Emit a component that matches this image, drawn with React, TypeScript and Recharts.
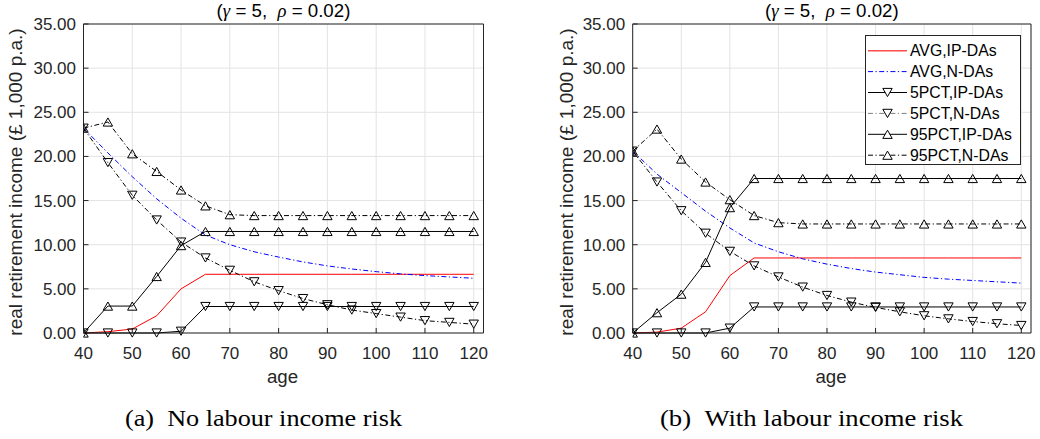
import React from 'react';
import { LineChart, Line, XAxis, YAxis, CartesianGrid } from 'recharts';

// ---------- data ----------
const ages = [40, 45, 50, 55, 60, 65, 70, 75, 80, 85, 90, 95, 100, 105, 110, 115, 120];
const xTicks = [40, 50, 60, 70, 80, 90, 100, 110, 120];
const yTicks = [0, 5, 10, 15, 20, 25, 30, 35];

// (a) No labour income risk
const avgIpA = [0, 0.15, 0.45, 1.95, 5.0, 6.65, 6.65, 6.65, 6.65, 6.65, 6.65, 6.65, 6.65, 6.65, 6.65, 6.65, 6.65];
const avgNA = [23.2, 20.4, 17.7, 15.2, 13.0, 11.1, 10.0, 9.2, 8.6, 8.05, 7.6, 7.25, 6.95, 6.7, 6.5, 6.35, 6.2];
const p5IpA = [0, 0, 0, 0, 0.2, 3.0, 3.0, 3.0, 3.0, 3.0, 3.0, 3.0, 3.0, 3.0, 3.0, 3.0, 3.0];
const p5NA = [23.2, 19.3, 15.6, 12.8, 10.3, 8.5, 7.1, 5.8, 4.8, 3.9, 3.2, 2.6, 2.2, 1.8, 1.4, 1.2, 1.0];
const p95IpA = [0, 3.05, 3.05, 6.4, 9.9, 11.5, 11.5, 11.5, 11.5, 11.5, 11.5, 11.5, 11.5, 11.5, 11.5, 11.5, 11.5];
const p95NA = [23.2, 23.9, 20.3, 18.3, 16.2, 14.4, 13.4, 13.3, 13.3, 13.3, 13.3, 13.3, 13.3, 13.3, 13.3, 13.3, 13.3];

// (b) With labour income risk
const avgIpB = [0, 0.1, 0.55, 2.4, 6.5, 8.5, 8.5, 8.5, 8.5, 8.5, 8.5, 8.5, 8.5, 8.5, 8.5, 8.5, 8.5];
const avgNB = [20.6, 18.0, 15.9, 13.8, 11.9, 10.2, 9.2, 8.4, 7.8, 7.3, 6.9, 6.6, 6.3, 6.1, 5.95, 5.8, 5.65];
const p5IpB = [0, 0, 0, 0, 0.55, 2.95, 2.95, 2.95, 2.95, 2.95, 2.95, 2.95, 2.95, 2.95, 2.95, 2.95, 2.95];
const p5NB = [20.6, 17.1, 13.85, 11.3, 9.25, 7.6, 6.35, 5.2, 4.25, 3.5, 2.9, 2.4, 1.95, 1.6, 1.3, 1.05, 0.85];
const p95IpB = [0, 2.3, 4.4, 8.0, 14.2, 17.5, 17.5, 17.5, 17.5, 17.5, 17.5, 17.5, 17.5, 17.5, 17.5, 17.5, 17.5];
const p95NB = [20.6, 23.1, 19.7, 17.1, 15.1, 13.3, 12.5, 12.35, 12.35, 12.35, 12.35, 12.35, 12.35, 12.35, 12.35, 12.35, 12.35];

const seriesNames = ['AVG,IP-DAs', 'AVG,N-DAs', '5PCT,IP-DAs', '5PCT,N-DAs', '95PCT,IP-DAs', '95PCT,N-DAs'];
const titleText = ['(', 'γ', ' = 5,\u00a0\u00a0', 'ρ', ' = 0.02)'];
const yLabel = 'real retirement income (£ 1,000 p.a.)';
const xLabel = 'age';
const captionA = '(a)\u00a0\u00a0No labour income risk';
const captionB = '(b)\u00a0\u00a0With labour income risk';

// ---------- styles ----------
const DASHDOT = '5 2.5 1.2 2.5';
const SANS = '"Liberation Sans", Arial, Helvetica, sans-serif';
const SERIF = '"Liberation Serif", "Times New Roman", serif';
const AXIS = '#262626';

type Marker = 'none' | 'down' | 'up';
interface SeriesStyle { key: string; color: string; legendColor: string; dash?: string; marker: Marker }
const seriesStyles: SeriesStyle[] = [
  { key: 'avgIp', color: '#ff0000', legendColor: '#ff4d4d', marker: 'none' },
  { key: 'avgN', color: '#0000ff', legendColor: '#0000ff', dash: DASHDOT, marker: 'none' },
  { key: 'p5Ip', color: '#000000', legendColor: '#000000', marker: 'down' },
  { key: 'p5N', color: '#000000', legendColor: '#7f7f7f', dash: DASHDOT, marker: 'down' },
  { key: 'p95Ip', color: '#000000', legendColor: '#000000', marker: 'up' },
  { key: 'p95N', color: '#000000', legendColor: '#000000', dash: DASHDOT, marker: 'up' },
];

function buildRows(cols: number[][]) {
  return ages.map((age, i) => {
    const row: Record<string, number> = { age };
    seriesStyles.forEach((s, j) => { row[s.key] = cols[j][i]; });
    return row;
  });
}
const dataA = buildRows([avgIpA, avgNA, p5IpA, p5NA, p95IpA, p95NA]);
const dataB = buildRows([avgIpB, avgNB, p5IpB, p5NB, p95IpB, p95NB]);

function triPath(cx: number, cy: number, m: Marker) {
  const w = 4.7, h = 4.1;
  if (m === 'down') return `M${cx - w},${cy - h}L${cx + w},${cy - h}L${cx},${cy + h}Z`;
  return `M${cx - w},${cy + h}L${cx + w},${cy + h}L${cx},${cy - h}Z`;
}

function makeDot(m: Marker, color: string) {
  return (p: any) => {
    if (p.cx == null || p.cy == null) return <g key={`n${p.index}`} />;
    return <path key={`d${p.index}`} d={triPath(p.cx, p.cy, m)} fill="none" stroke={color} strokeWidth={1} />;
  };
}

const fmt = (v: number) => v.toFixed(2);

interface PanelProps { data: Record<string, number>[]; left: number; plotLeft: number; plotRight: number; }

function Panel({ data, left, plotLeft, plotRight }: PanelProps) {
  const W = 520, H = 439;
  const top = 24, bottom = 333;
  return (
    <div style={{ position: 'absolute', left, top: 0, width: W, height: H }}>
      <LineChart
        width={W}
        height={H}
        data={data}
        margin={{ top: top - 1, left: plotLeft - 60, right: W - plotRight - 1, bottom: H - bottom - 30 }}
      >
        <CartesianGrid stroke="#e3e3e3" strokeWidth={1} />
        <XAxis
          dataKey="age"
          type="number"
          domain={[40, 122]}
          ticks={xTicks}
          interval={0}
          height={30}
          allowDataOverflow
          stroke={AXIS}
          tickSize={-5}
          tickMargin={18.5}
          tick={{ fill: AXIS, fontSize: 17, fontFamily: SANS }}
        />
        <XAxis
          xAxisId="top"
          orientation="top"
          dataKey="age"
          type="number"
          domain={[40, 122]}
          ticks={xTicks}
          interval={0}
          height={1}
          allowDataOverflow
          stroke={AXIS}
          tickSize={-5}
          tick={false}
        />
        <YAxis
          type="number"
          domain={[0, 35]}
          ticks={yTicks}
          interval={0}
          width={60}
          stroke={AXIS}
          tickSize={-5}
          tickMargin={12.5}
          tickFormatter={fmt}
          tick={{ fill: AXIS, fontSize: 17, fontFamily: SANS }}
        />
        <YAxis
          yAxisId="right"
          orientation="right"
          type="number"
          domain={[0, 35]}
          ticks={yTicks}
          interval={0}
          width={1}
          stroke={AXIS}
          tickSize={-5}
          tick={false}
        />
        {seriesStyles.map((s) => (
          <Line
            key={s.key}
            dataKey={s.key}
            type="linear"
            stroke={s.color}
            strokeWidth={1}
            strokeDasharray={s.dash}
            dot={s.marker === 'none' ? false : makeDot(s.marker, s.color)}
            activeDot={false}
            isAnimationActive={false}
          />
        ))}
      </LineChart>
    </div>
  );
}

function LegendBox({ left, top }: { left: number; top: number }) {
  const w = 156, h = 130, step = 20.9, first = 15.7;
  return (
    <div style={{ position: 'absolute', left, top, width: w, height: h }}>
      <svg width={w} height={h} style={{ display: 'block' }}>
        <rect x={0.5} y={0.5} width={w - 1} height={h - 1} fill="#ffffff" stroke={AXIS} strokeWidth={1} />
        {seriesStyles.map((s, i) => {
          const cy = first + i * step;
          return (
            <g key={s.key}>
              <line x1={3} x2={42} y1={cy} y2={cy} stroke={s.legendColor} strokeWidth={s.key === 'avgIp' ? 1.6 : 1} strokeDasharray={s.dash} />
              {s.marker !== 'none' && (
                <path d={triPath(22.5, cy, s.marker)} fill="#ffffff" stroke="#000" strokeWidth={1} />
              )}
              <text x={45} y={cy} dy="0.36em" fontSize={15.8} fontFamily={SANS} fill="#000">{seriesNames[i]}</text>
            </g>
          );
        })}
      </svg>
    </div>
  );
}

function Texts() {
  const title = (cx: number) => (
    <text x={cx} y={17} textAnchor="middle" fontSize={18.7} fontFamily={SANS} fill="#000">
      {titleText.map((t, i) => (
        <tspan key={i} fontStyle={i === 1 || i === 3 ? 'italic' : 'normal'} fontFamily={i === 1 || i === 3 ? SERIF : SANS}>{t}</tspan>
      ))}
    </text>
  );
  const ylab = (x: number) => (
    <text transform={`translate(${x},182) rotate(-90)`} textAnchor="middle" fontSize={19} fontFamily={SANS} fill={AXIS}>{yLabel}</text>
  );
  return (
    <svg width={1040} height={439} style={{ position: 'absolute', left: 0, top: 0, pointerEvents: 'none' }}>
      {title(283.5)}
      {title(831.8)}
      {ylab(22)}
      {ylab(573)}
      <text x={282.5} y={383} textAnchor="middle" fontSize={18.7} fontFamily={SANS} fill={AXIS}>{xLabel}</text>
      <text x={831} y={383} textAnchor="middle" fontSize={18.7} fontFamily={SANS} fill={AXIS}>{xLabel}</text>
      <text x={263.5} y={426} textAnchor="middle" fontSize={24} fontFamily={SERIF} fill="#000" textLength={277} lengthAdjust="spacingAndGlyphs">{captionA}</text>
      <text x={811.5} y={426} textAnchor="middle" fontSize={24} fontFamily={SERIF} fill="#000" textLength={303} lengthAdjust="spacingAndGlyphs">{captionB}</text>
    </svg>
  );
}

export default function App() {
  return (
    <div style={{ position: 'absolute', left: 0, top: 0, width: 1040, height: 439, background: '#ffffff', overflow: 'hidden' }}>
      <Panel data={dataA} left={0} plotLeft={83.5} plotRight={483.5} />
      <Panel data={dataB} left={520} plotLeft={112.7} plotRight={511} />
      <LegendBox left={865} top={35} />
      <Texts />
    </div>
  );
}
